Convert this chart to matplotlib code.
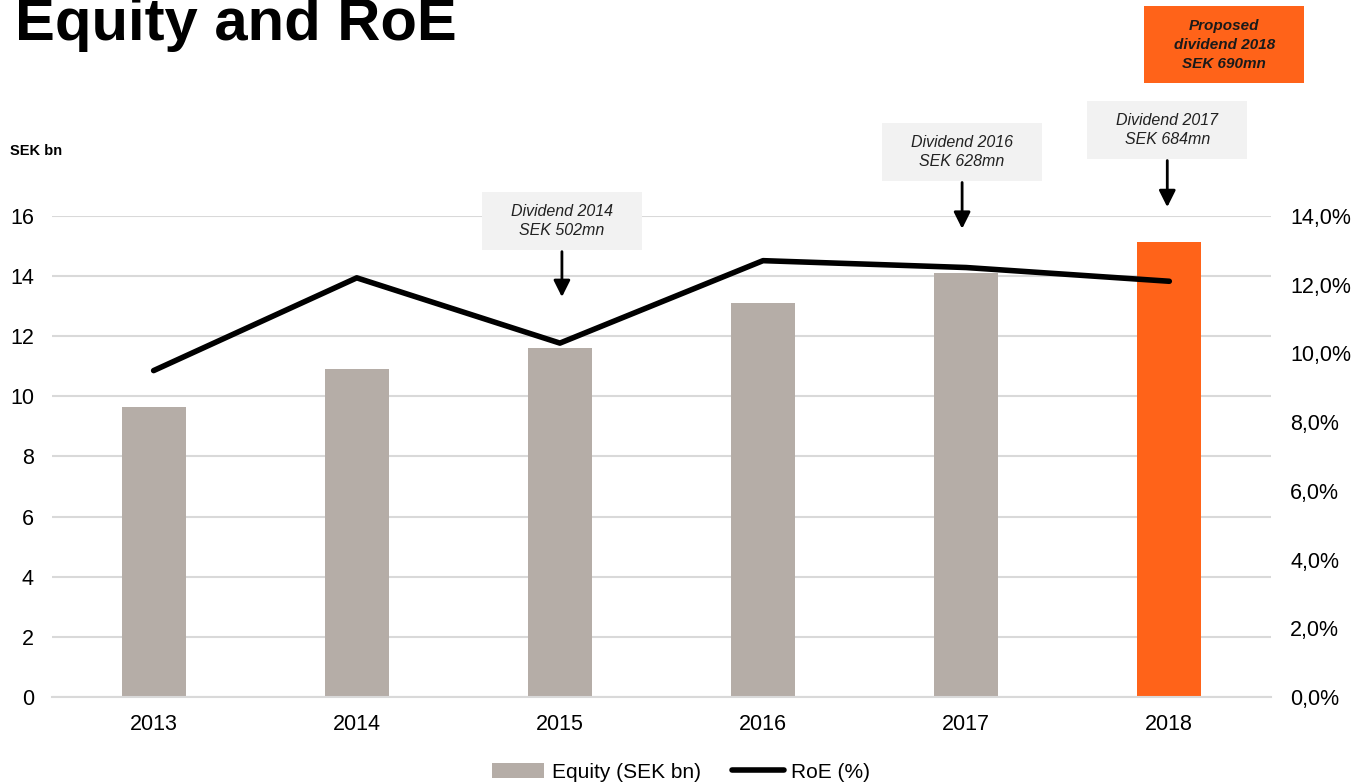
import numpy as np
import matplotlib
matplotlib.use("Agg")
import matplotlib.pyplot as plt
from matplotlib.patches import Rectangle
from matplotlib import rcParams
rcParams.update({'font.family': ['Liberation Sans', 'DejaVu Sans']})

years = ["2013", "2014", "2015", "2016", "2017", "2018"]
equity = [9.65, 10.9, 11.6, 13.1, 14.1, 15.15]
roe = [9.5, 12.2, 10.3, 12.7, 12.5, 12.1]
eq_ticks = [0, 2, 4, 6, 8, 10, 12, 14, 16]
roe_ticks = [0, 2, 4, 6, 8, 10, 12, 14]
roe_tick_labels = ["0,0%", "2,0%", "4,0%", "6,0%", "8,0%", "10,0%", "12,0%", "14,0%"]

# dividend notes: text, category the arrow points at
notes = [("Dividend 2014\nSEK 502mn", 2),
         ("Dividend 2016\nSEK 628mn", 4),
         ("Dividend 2017\nSEK 684mn", 5)]
proposed = "Proposed\ndividend 2018\nSEK 690mn"

GREY = "#B5ADA7"
ORANGE = "#FF6319"
BOXGREY = "#F2F2F2"

fig = plt.figure(figsize=(13.52, 7.84), dpi=100)
ax = fig.add_axes([0.0385, 0.111, 0.9015, 0.6135])
x = np.arange(len(years))
colors = [GREY] * (len(years) - 1) + [ORANGE]
bars = ax.bar(x, equity, width=0.315, color=colors, zorder=2)
ax.set_xlim(-0.5, len(years) - 0.5)
ax.set_ylim(0, 16)
ax.set_yticks(eq_ticks)
ax.set_xticks(x)
ax.set_xticklabels(years)
ax.grid(axis='y', color="#D9D9D9", lw=1.5, zorder=0)
ax.set_axisbelow(True)
ax.tick_params(axis='y', length=0, pad=13, labelsize=15.5)
ax.tick_params(axis='x', length=0, pad=12, labelsize=15.5)
for s in ax.spines.values():
    s.set_visible(False)
ax.spines['bottom'].set_visible(True)
ax.spines['bottom'].set_color("#D9D9D9")
ax.spines['bottom'].set_linewidth(1.5)

ax2 = ax.twinx()
line, = ax2.plot(x, roe, color="black", lw=4, solid_capstyle='round', zorder=3)
ax2.set_ylim(0, 14)
ax2.set_yticks(roe_ticks)
ax2.set_yticklabels(roe_tick_labels)
ax2.tick_params(axis='y', length=0, pad=14, labelsize=15.5)
for s in ax2.spines.values():
    s.set_visible(False)

# annotation boxes (left axis units)
box_w, box_h = 0.787, 1.93
box_dx = [0.01, -0.02, -0.01]
box_y = [15.83, 18.13, 18.86]
arrow_len = [1.46, 1.49, 1.5]
for (txt, idx), dx, cy, al in zip(notes, box_dx, box_y, arrow_len):
    cx = idx + dx
    ax.add_patch(Rectangle((cx - box_w / 2, cy - box_h / 2), box_w, box_h,
                           facecolor=BOXGREY, edgecolor='none', clip_on=False, zorder=4))
    ax.text(cx, cy, txt, ha='center', va='center', fontsize=11.5, style='italic',
            color="#222222", zorder=5, clip_on=False, linespacing=1.35)
    ax.annotate('', xy=(cx, cy - box_h / 2 - 0.1 - al), xytext=(cx, cy - box_h / 2 - 0.05),
                arrowprops=dict(arrowstyle='-|>', lw=2, color='black', mutation_scale=25,
                                shrinkA=0, shrinkB=0),
                annotation_clip=False, zorder=5)

pcx, pcy = 5.27, 21.69
ax.add_patch(Rectangle((pcx - box_w / 2, pcy - 2.56 / 2), box_w, 2.56,
                       facecolor=ORANGE, edgecolor='none', clip_on=False, zorder=4))
ax.text(pcx, pcy, proposed, ha='center', va='center', fontsize=11, style='italic',
        weight='bold', color="#1a1a1a", zorder=5, clip_on=False, linespacing=1.45)

fig.text(0.011, 0.949, "Equity and RoE", fontsize=43, weight='bold', va='baseline')
fig.text(0.0075, 0.808, "SEK bn", fontsize=10.5, weight='bold', va='center')

fig.legend([bars[0], line], ["Equity (SEK bn)", "RoE (%)"], loc='center',
           bbox_to_anchor=(0.504, 0.015), ncol=2, frameon=False, fontsize=15,
           handlelength=2.5, handletextpad=0.35, columnspacing=1.5)

fig.savefig("out.png", dpi=100)
